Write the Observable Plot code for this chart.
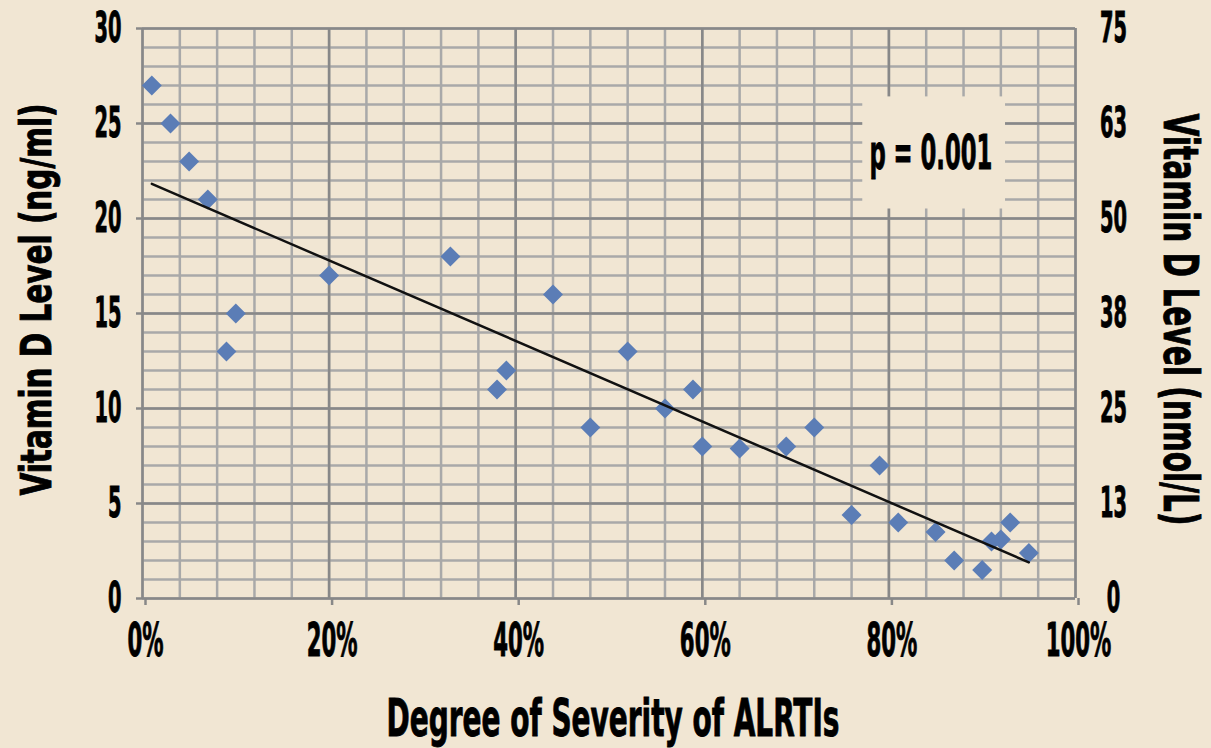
<!DOCTYPE html>
<html>
<head>
<meta charset="utf-8">
<script src="https://cdn.jsdelivr.net/npm/d3@7"></script>
<script src="https://cdn.jsdelivr.net/npm/@observablehq/plot@0.6"></script>
<style>
  html, body { margin: 0; padding: 0; background: #f1e6d3; }
</style>
</head>
<body>
<div id="chart"></div>
<script>
// ---- data ----
const severity = [1, 3, 5, 7, 9, 10, 20, 33, 38, 39, 44, 48, 52, 56, 59, 60, 64, 69, 72, 76, 79, 81, 85, 87, 90, 91, 92, 93, 95];
const vitaminD = [27, 25, 23, 21, 13, 15, 17, 18, 11, 12, 16, 9, 13, 10, 11, 8, 7.9, 8, 9, 4.4, 7, 4, 3.5, 2, 1.5, 3, 3.1, 4, 2.4];
const xTicks = [0, 20, 40, 60, 80, 100];
const xMinorTicks = d3.range(0, 101, 4);
const yTicks = [0, 5, 10, 15, 20, 25, 30];
const yMinorTicks = d3.range(0, 31, 1);
const xTitle = "Degree of Severity of ALRTIs";
const yTitleLeft = "Vitamin D Level (ng/ml)";
const yTitleRight = "Vitamin D Level (nmol/L)";
const pNote = "p = 0.001";

const points = severity.map((s, i) => ({severity: s, vitd: vitaminD[i]}));

const bg = "#f1e6d3";
const minorColor = "#a9a9a9";
const majorColor = "#888888";
const FONT = "'Liberation Sans Narrow', 'DejaVu Sans Condensed', 'Liberation Sans', sans-serif";

const chart = Plot.plot({
  width: 1211,
  height: 748,
  marginTop: 28,
  marginRight: 136,
  marginBottom: 150,
  marginLeft: 142,
  style: {fontFamily: FONT, fontWeight: "bold", background: bg, color: "#000", overflow: "visible"},
  x: {domain: [0, 100]},
  y: {domain: [0, 30]},
  marks: [
    Plot.ruleX(xMinorTicks, {stroke: minorColor, strokeWidth: 2.5}),
    Plot.ruleY(yMinorTicks, {stroke: minorColor, strokeWidth: 2.5}),
    Plot.ruleX(xTicks, {stroke: majorColor, strokeWidth: 2.5}),
    Plot.ruleY(yTicks, {stroke: majorColor, strokeWidth: 2.5}),
    // p-value text box
    Plot.rect([pNote], {x1: 77.2, x2: 92.5, y1: 20.5, y2: 26.4, fill: bg}),
    Plot.text([pNote], {x: 84.5, y: 22.6, text: d => d, lineAnchor: "bottom", textAnchor: "middle", fontSize: 48, fontWeight: "bold", fill: "#000"}),
    Plot.dot(points, {x: "severity", y: "vitd", symbol: "diamond2", r: 9, fill: "#5b7db6", stroke: "none"}),
    Plot.linearRegressionY(points, {x: "severity", y: "vitd", stroke: "#111", strokeWidth: 2.5, ci: 0}),
    Plot.axisY({anchor: "left", ticks: yTicks, tickSize: 6, tickPadding: 15, stroke: majorColor, strokeWidth: 2.5, fontSize: 42, label: null}),
    Plot.axisY({anchor: "right", ticks: yTicks, tickSize: 0, tickPadding: 38, textAnchor: "middle", tickFormat: d => String(Math.round(d * 2.5)), fontSize: 42, label: null}),
    Plot.axisX({anchor: "bottom", ticks: xTicks, tickSize: 7, tickPadding: 18, stroke: majorColor, strokeWidth: 2.5, tickFormat: d => d + "%", fontSize: 46, dx: 3, label: null}),
    Plot.text([xTitle], {frameAnchor: "bottom", text: d => d, dx: 4, dy: 137, lineAnchor: "bottom", textAnchor: "middle", fontSize: 52, fontWeight: "bold", fill: "#000"}),
    Plot.text([yTitleLeft], {frameAnchor: "left", text: d => d, rotate: -90, dx: -92, dy: -14, lineAnchor: "bottom", textAnchor: "middle", fontSize: 42, fontWeight: "bold", fill: "#000"}),
    Plot.text([yTitleRight], {frameAnchor: "right", text: d => d, rotate: 90, dx: 88, dy: 6, lineAnchor: "bottom", textAnchor: "middle", fontSize: 48, fontWeight: "bold", fill: "#000"})
  ]
});

document.getElementById("chart").appendChild(chart);

// condense the text to match the reference's narrow, heavy typeface
const texts = Array.from(chart.querySelectorAll("text"));
const targets = {};
targets[xTitle] = 453;
targets[yTitleLeft] = 392;
targets[yTitleRight] = 412;
targets[pNote] = 123;
let k = 0.69;
const probe = texts.find(t => t.textContent === "30" && t.closest('g[aria-label="y-axis tick label"]'));
if (probe) {
  const w = probe.getComputedTextLength();
  if (w > 0) k = 27 / w;
}
for (const t of texts) {
  const s = t.textContent;
  const w = t.getComputedTextLength();
  if (!(w > 0)) continue;
  const target = targets[s] !== undefined ? targets[s] : w * k;
  t.setAttribute("textLength", target.toFixed(1));
  t.setAttribute("lengthAdjust", "spacingAndGlyphs");
  t.setAttribute("stroke", "#000");
  t.setAttribute("stroke-width", "0.9");
}
</script>
</body>
</html>
